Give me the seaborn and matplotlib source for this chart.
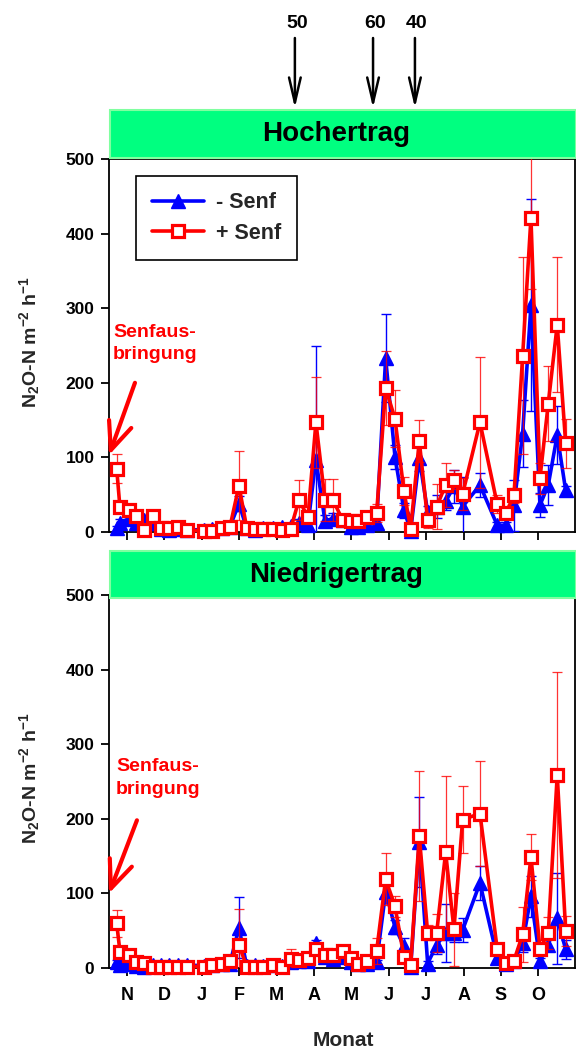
import numpy as np
import pandas as pd
import matplotlib
matplotlib.use("Agg")
import matplotlib.pyplot as plt
import matplotlib.transforms as mtransforms
from matplotlib.patches import Rectangle
from matplotlib import font_manager as fm
import seaborn as sns

# ---------------- data ----------------
months = ['N', 'D', 'J', 'F', 'M', 'A', 'M', 'J', 'J', 'A', 'S', 'O']
# sampling dates, in months after 1 November
t = [-0.275, -0.187, 0.053, 0.241, 0.455, 0.687, 0.909, 1.123, 1.364, 1.604,
     2.059, 2.273, 2.532, 2.754, 2.995, 3.201, 3.422, 3.636, 3.896, 4.136,
     4.377, 4.599, 4.840, 5.053, 5.294, 5.508, 5.767, 5.981, 6.184, 6.425,
     6.676, 6.917, 7.166, 7.406, 7.586, 7.816, 8.040, 8.281, 8.521, 8.743,
     8.976, 9.439, 9.901, 10.126, 10.348, 10.580, 10.802, 11.043, 11.265, 11.505, 11.730]

hoch_plus = [85, 33, 29, 22, 3, 22, 5, 6, 7, 3,
             1, 1, 6, 7, 62, 6, 4, 4, 4, 3,
             4, 43, 20, 147, 43, 43, 16, 15, 15, 20,
             25, 193, 152, 55, 4, 122, 16, 34, 63, 70,
             51, 147, 37, 25, 49, 236, 421, 72, 172, 278, 119]
hoch_plus_err = [19, 5, 5, 4, 2, 4, 2, 2, 2, 1,
                 1, 1, 2, 2, 46, 2, 1, 1, 1, 1,
                 2, 27, 6, 61, 28, 28, 4, 3, 3, 5,
                 12, 49, 38, 19, 2, 28, 10, 30, 30, 13,
                 22, 88, 12, 8, 10, 132, 95, 21, 50, 90, 33]
hoch_minus = [5, 12, 18, 12, 16, 12, 4, 3, 4, 3,
              3, 4, 6, 7, 38, 5, 3, 5, 6, 7,
              8, 12, 10, 97, 15, 18, 16, 7, 7, 10,
              12, 233, 101, 29, 2, 99, 27, 34, 41, 61,
              34, 63, 9, 9, 36, 132, 304, 36, 63, 130, 56]
hoch_minus_err = [3, 5, 5, 4, 5, 4, 2, 1, 1, 1,
                  1, 1, 2, 2, 10, 2, 1, 2, 2, 2,
                  3, 5, 4, 152, 8, 8, 5, 3, 2, 3,
                  4, 59, 16, 10, 2, 17, 8, 15, 12, 22,
                  40, 16, 4, 4, 34, 45, 142, 16, 27, 39, 6]

nied_plus = [60, 22, 17, 8, 7, 2, 1, 1, 1, 2,
             2, 4, 6, 10, 31, 2, 1, 1, 4, 1,
             12, 11, 14, 26, 17, 17, 23, 13, 6, 10,
             23, 119, 83, 15, 4, 177, 47, 47, 155, 52,
             199, 207, 25, 7, 10, 45, 149, 26, 47, 259, 50]
nied_plus_err = [18, 5, 4, 2, 2, 1, 1, 1, 1, 1,
                 1, 1, 2, 3, 48, 1, 1, 1, 2, 1,
                 13, 4, 5, 8, 5, 5, 6, 4, 2, 3,
                 17, 35, 14, 8, 2, 87, 10, 26, 103, 49,
                 45, 70, 5, 3, 4, 37, 31, 8, 21, 138, 20]
nied_minus = [8, 4, 6, 3, 2, 4, 4, 4, 4, 4,
              3, 4, 5, 6, 54, 3, 4, 3, 4, 3,
              8, 9, 10, 33, 15, 12, 15, 8, 5, 5,
              8, 102, 55, 29, 1, 169, 6, 31, 47, 47,
              51, 114, 14, 6, 9, 34, 96, 9, 31, 67, 25]
nied_minus_err = [3, 2, 2, 1, 1, 1, 1, 1, 1, 1,
                  1, 1, 1, 2, 41, 1, 1, 1, 1, 1,
                  3, 3, 3, 4, 4, 4, 4, 2, 2, 2,
                  3, 15, 10, 11, 1, 60, 3, 12, 39, 12,
                  16, 23, 4, 2, 3, 12, 27, 4, 8, 61, 13]

# fertilisation events (month position, kg N)
fert_t = [4.49, 6.58, 7.70]
fert_labels = ['50', '60', '40']

panel_titles = ['Hochertrag', 'Niedrigertrag']
series_labels = ['- Senf', '+ Senf']

# ---------------- style ----------------
sns.set_theme(style="ticks")
names = {f.name for f in fm.fontManager.ttflist}
fam = 'Liberation Sans' if 'Liberation Sans' in names else 'DejaVu Sans'
plt.rcParams['font.family'] = [fam, 'DejaVu Sans']
plt.rcParams['font.weight'] = 'bold'
plt.rcParams['mathtext.fontset'] = 'custom'
plt.rcParams['mathtext.rm'] = fam + ':bold'
plt.rcParams['mathtext.bf'] = fam + ':bold'
plt.rcParams['mathtext.default'] = 'bf'

BLUE = '#0000FF'
RED = '#FF0000'
GREEN = '#00FF80'

W, H = 576, 1050
fig = plt.figure(figsize=(W / 100, H / 100), dpi=100)
fig.patch.set_facecolor('white')


def rect(left, top, right, bottom):
    return [left / W, 1 - bottom / H, (right - left) / W, (bottom - top) / H]


ax1 = fig.add_axes(rect(109, 159, 575, 532))
ax2 = fig.add_axes(rect(109, 595, 575, 968))

data = [(hoch_minus, hoch_minus_err, hoch_plus, hoch_plus_err),
        (nied_minus, nied_minus_err, nied_plus, nied_plus_err)]

for ax, (bm, bme, rp, rpe) in zip([ax1, ax2], data):
    ax.set_facecolor('white')
    ax.errorbar(t, bm, yerr=bme, fmt='none', ecolor=BLUE, elinewidth=1.0,
                capsize=3.5, capthick=1.0, zorder=2)
    sns.lineplot(x=t, y=bm, ax=ax, color=BLUE, linewidth=2.6, marker='^',
                 markersize=10, markerfacecolor=BLUE, markeredgecolor=BLUE,
                 markeredgewidth=1.0, label=series_labels[0], zorder=3,
                 errorbar=None, sort=False, clip_on=False)
    ax.errorbar(t, rp, yerr=rpe, fmt='none', ecolor=RED, elinewidth=0.9,
                capsize=3.5, capthick=0.9, zorder=4, alpha=0.8)
    sns.lineplot(x=t, y=rp, ax=ax, color=RED, linewidth=2.6, marker='s',
                 markersize=8.5, markerfacecolor='white', markeredgecolor=RED,
                 markeredgewidth=2.3, label=series_labels[1], zorder=5,
                 errorbar=None, sort=False, clip_on=False)
    ax.set_xlim(-0.48, 11.98)
    ax.set_ylim(0, 500)
    ax.set_xticks(range(12))
    ax.set_yticks(range(0, 501, 100))
    ax.set_xlabel('')
    ax.set_ylabel('')
    for sp in ax.spines.values():
        sp.set_visible(True)
        sp.set_linewidth(1.3)
        sp.set_color('black')
        sp.set_zorder(1)
    ax.tick_params(axis='both', direction='out', length=5.5, width=1.3,
                   colors='black', labelsize=12.5)
    ax.tick_params(axis='y', pad=5)
    ax.tick_params(axis='x', pad=8, labelsize=13)
    for lab in ax.get_yticklabels():
        lab.set_fontweight('bold')
    lg = ax.get_legend()
    if lg is not None:
        lg.remove()

ax1.set_xticklabels([])
ax2.set_xticklabels(months)
for lab in ax2.get_xticklabels():
    lab.set_fontweight('bold')

# legend
h, l = ax1.get_legend_handles_labels()
leg = ax1.legend(h[:2], l[:2], loc='upper left', bbox_to_anchor=(0.058, 0.954),
                 borderaxespad=0, frameon=True, fancybox=False, framealpha=1,
                 edgecolor='black', fontsize=15.5, handlelength=2.4,
                 handletextpad=0.55, borderpad=0.75, labelspacing=0.45)
leg.get_frame().set_linewidth(1.2)
leg.set_zorder(20)
for txt in leg.get_texts():
    txt.set_fontweight('bold')

# green title boxes
for (top, bottom), title in zip([(110, 158), (551, 598)], panel_titles):
    fig.add_artist(Rectangle((110 / W, 1 - bottom / H), (576 - 110) / W, (bottom - top) / H,
                             transform=fig.transFigure, facecolor=GREEN,
                             edgecolor='#80FFA0', linewidth=1.5, zorder=10))
    fig.text(336 / W, 1 - (top + bottom) / 2 / H, title, ha='center', va='center',
             fontsize=20, fontweight='bold', color='black', zorder=11)

# fertiliser arrows
tr = mtransforms.blended_transform_factory(ax1.transData, fig.transFigure)
for xf, lab in zip(fert_t, fert_labels):
    ax1.annotate('', xy=(xf, 1 - 108 / H), xytext=(xf, 1 - 38 / H),
                 xycoords=tr, textcoords=tr, annotation_clip=False,
                 arrowprops=dict(arrowstyle='->,head_length=1.8,head_width=0.42',
                                 lw=1.8, color='black', shrinkA=0, shrinkB=0,
                                 mutation_scale=10))
    ax1.text(xf + 0.05, 1 - 24 / H, lab, transform=tr, ha='center', va='center',
             fontsize=14, fontweight='bold', color='black')

# Senfausbringung annotations
for ax, tip_y, start, txt_xy in [(ax1, 103, (0.214, 200), (-0.374, 279)),
                                 (ax2, 100, (0.267, 198), (-0.29, 281))]:
    ax.annotate('', xy=(-0.48, tip_y), xytext=start, annotation_clip=False,
                arrowprops=dict(arrowstyle='->,head_length=2.0,head_width=0.85',
                                lw=3.0, color=RED, shrinkA=0, shrinkB=0,
                                mutation_scale=10), zorder=8)
    ax.text(txt_xy[0], txt_xy[1], 'Senfaus-\nbringung', ha='left', va='top',
            color=RED, fontsize=14, fontweight='bold', linespacing=1.4, zorder=8)

# axis labels
ylab = r'N$_2$O-N m$^{-2}$ h$^{-1}$'
for yc in [342, 778]:
    fig.text(30 / W, 1 - yc / H, ylab, rotation=90, ha='center', va='center',
             fontsize=14, fontweight='bold')
fig.text(343 / W, 1 - 1040 / H, 'Monat', ha='center', va='center',
         fontsize=15, fontweight='bold')

fig.savefig('out.png', dpi=100, facecolor='white')
